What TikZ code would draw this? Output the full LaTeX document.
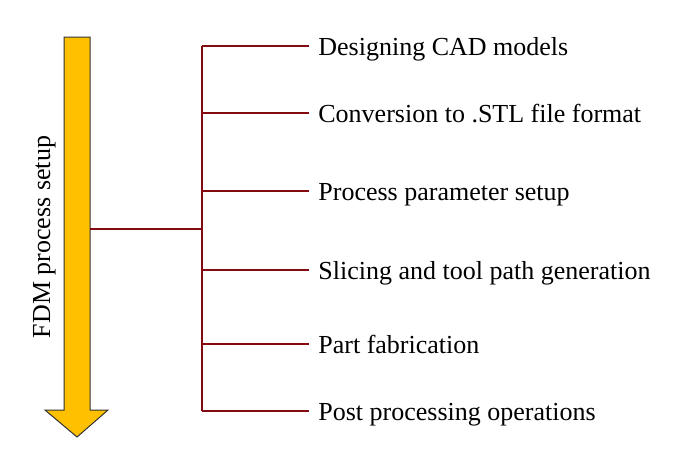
\documentclass[tikz,border=0pt]{standalone}
\usepackage{fontspec}
\setmainfont{Liberation Serif}
\definecolor{branchred}{RGB}{130,10,16}
\definecolor{arrowgold}{RGB}{255,192,0}
\begin{document}
\begin{tikzpicture}[x=0.5pt,y=-0.5pt,
  branch/.style={draw=branchred,line width=1.2pt},
  stepitem/.style={anchor=west,inner sep=0pt,text height=9pt,text depth=0pt,font=\fontsize{13}{15}\selectfont},
  bigarrow/.style={fill=arrowgold,draw=black!80,line width=0.5pt}]
\useasboundingbox (0,0) rectangle (700,462);
% arrow
\filldraw[bigarrow] (64,37) -- (90,37) -- (90,410) -- (108,410) -- (77,437) -- (45,410) -- (64,410) -- cycle;
\node[rotate=90,inner sep=0pt,font=\fontsize{13}{15}\selectfont] (lbl) at (44.5,237) {FDM process setup};
\coordinate (a) at (90,229);
\coordinate (m) at (202,229);
% items
\node[stepitem] (t1) at (318,46) {Designing CAD models};
\node[stepitem] (t2) at (318,113) {Conversion to .STL file format};
\node[stepitem] (t3) at (318,191) {Process parameter setup};
\node[stepitem] (t4) at (318,270) {Slicing and tool path generation};
\node[stepitem] (t5) at (318,344) {Part fabrication};
\node[stepitem] (t6) at (318,411) {Post processing operations};
\coordinate (c1) at (202,46);
\coordinate (c6) at (202,411);
\draw[branch] (a) -- (m);
\draw[branch] (c1) -- (c6);
\foreach \i in {1,...,6}{
  \draw[branch] (t\i.west -| c1) -- ([xshift=-4.5pt]t\i.west);
}
\end{tikzpicture}
\end{document}
